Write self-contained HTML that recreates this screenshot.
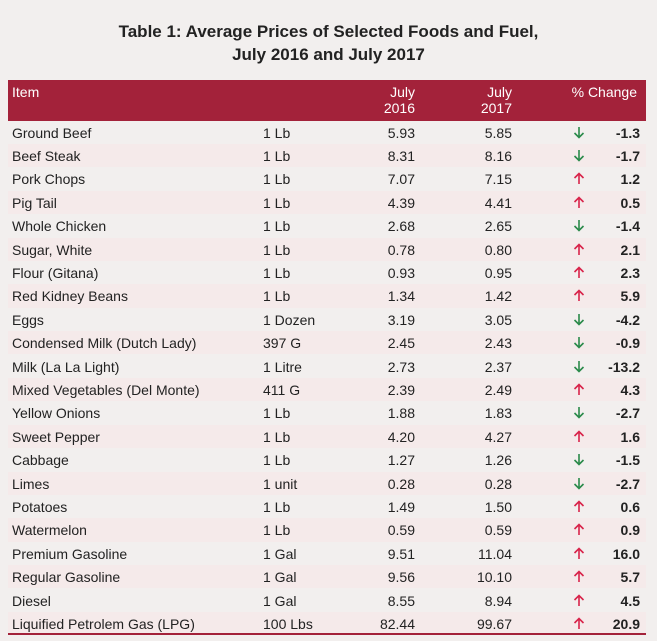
<!DOCTYPE html>
<html><head><style>
body{margin:0;width:657px;height:641px;background:#f2efee;font-family:"Liberation Sans",sans-serif;position:relative;overflow:hidden}
.t{position:absolute;left:0;width:657px;text-align:center;font-weight:bold;font-size:17px;color:#222;line-height:23px;top:20px}
.hd{position:absolute;left:8px;top:80px;width:638px;height:41px;background:#a3223a;color:#fff;font-size:14px}
.hd span{position:absolute;line-height:16px}
.r{position:absolute;left:8px;width:638px;height:23.4px;font-size:14px;color:#222}
.r span{position:absolute;top:4px;line-height:16px}
.r svg{position:absolute;left:565px;top:5px}
.a{text-align:right}
.bl{position:absolute;left:8px;top:633px;width:638px;height:2px;background:#a3223a}
</style></head><body>
<div class="t">Table 1: Average Prices of Selected Foods and Fuel,<br>July 2016 and July 2017</div>
<div class="hd"><span style="left:4px;top:4px">Item</span>
<span style="right:231px;top:4px;text-align:right">July<br>2016</span>
<span style="right:134px;top:4px;text-align:right">July<br>2017</span>
<span style="right:9px;top:4px">% Change</span></div>
<div id="rows"></div>
<div class="bl"></div>
<script>
var d=[["Ground Beef","1 Lb","5.93","5.85","-1.3"],["Beef Steak","1 Lb","8.31","8.16","-1.7"],["Pork Chops","1 Lb","7.07","7.15","1.2"],["Pig Tail","1 Lb","4.39","4.41","0.5"],["Whole Chicken","1 Lb","2.68","2.65","-1.4"],["Sugar, White","1 Lb","0.78","0.80","2.1"],["Flour (Gitana)","1 Lb","0.93","0.95","2.3"],["Red Kidney Beans","1 Lb","1.34","1.42","5.9"],["Eggs","1 Dozen","3.19","3.05","-4.2"],["Condensed Milk (Dutch Lady)","397 G","2.45","2.43","-0.9"],["Milk (La La Light)","1 Litre","2.73","2.37","-13.2"],["Mixed Vegetables (Del Monte)","411 G","2.39","2.49","4.3"],["Yellow Onions","1 Lb","1.88","1.83","-2.7"],["Sweet Pepper","1 Lb","4.20","4.27","1.6"],["Cabbage","1 Lb","1.27","1.26","-1.5"],["Limes","1 unit","0.28","0.28","-2.7"],["Potatoes","1 Lb","1.49","1.50","0.6"],["Watermelon","1 Lb","0.59","0.59","0.9"],["Premium Gasoline","1 Gal","9.51","11.04","16.0"],["Regular Gasoline","1 Gal","9.56","10.10","5.7"],["Diesel","1 Gal","8.55","8.94","4.5"],["Liquified Petrolem Gas (LPG)","100 Lbs","82.44","99.67","20.9"]];
var up='<svg width="12" height="13" viewBox="0 0 12 13"><path d="M6 12V1.5M1.5 6L6 1.5L10.5 6" stroke="#d8234a" stroke-width="1.6" fill="none"/></svg>';
var dn='<svg width="12" height="13" viewBox="0 0 12 13"><path d="M6 1V11.5M1.5 7L6 11.5L10.5 7" stroke="#2a8a4a" stroke-width="1.6" fill="none"/></svg>';
var h="";d.forEach(function(r,i){var n=r[4][0]=="-";
h+='<div class="r" style="top:'+(120.5+i*23.4)+'px;background:'+(i%2?'#f5eaea':'#f2efee')+'"><span style="left:4px">'+r[0]+'</span><span style="left:255px">'+r[1]+'</span><span class="a" style="right:231px">'+r[2]+'</span><span class="a" style="right:134px">'+r[3]+'</span>'+(n?dn:up)+'<span class="a" style="right:6px;font-weight:bold">'+r[4]+'</span></div>';});
document.getElementById("rows").innerHTML=h;
</script>
</body></html>
